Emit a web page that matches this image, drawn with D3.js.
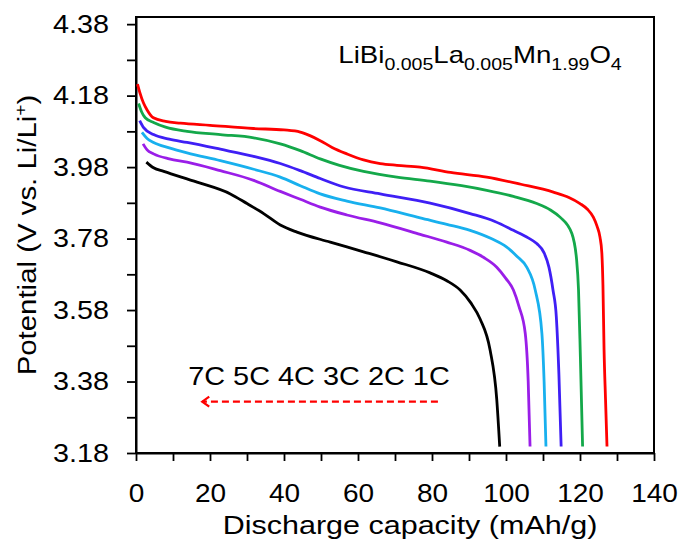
<!DOCTYPE html>
<html>
<head>
<meta charset="utf-8">
<script src="https://cdn.jsdelivr.net/npm/d3@7"></script>
<style>
  body { margin: 0; background: #fff; }
  text { font-family: "Liberation Sans", Arial, sans-serif; fill: #000; }
</style>
</head>
<body>
<div id="chart"></div>
<script>
// discharge curves, one pair of arrays per C-rate
var rates = ["1C", "2C", "3C", "4C", "5C", "7C"]
var rateColors = ["#ff0000", "#14a84a", "#3f1ff5", "#18b0ee", "#9a1ee8", "#000000"]

var cap1C = [0.4, 1, 2, 3, 4.7, 8, 12, 20, 31.7, 40, 44.4, 47, 49.8, 53, 57, 61.5, 66, 70.5, 76.8, 85, 94.8, 104, 112.8, 117, 120, 122, 123.6, 124.6, 125.4, 125.9, 126.2, 126.5, 126.9, 127.3]
var volt1C = [4.212, 4.19, 4.16, 4.14, 4.118, 4.108, 4.103, 4.097, 4.088, 4.084, 4.078, 4.068, 4.054, 4.035, 4.017, 4.000, 3.99, 3.985, 3.98, 3.965, 3.952, 3.932, 3.910, 3.895, 3.878, 3.862, 3.840, 3.815, 3.784, 3.74, 3.65, 3.47, 3.33, 3.198]

var cap2C = [0.7, 1.5, 2.5, 4.75, 8, 13.8, 22.8, 31.8, 39, 44.4, 49.8, 55, 61.5, 70.5, 79.5, 88, 94.8, 102, 108.3, 112, 114.6, 117.8, 119.1, 119.6, 120.1, 120.7]
var volt2C = [4.158, 4.135, 4.118, 4.105, 4.092, 4.080, 4.071, 4.062, 4.045, 4.026, 4.003, 3.985, 3.968, 3.952, 3.941, 3.928, 3.915, 3.898, 3.878, 3.860, 3.840, 3.794, 3.719, 3.636, 3.45, 3.198]

var cap3C = [1, 2, 4.75, 9, 13.8, 22.8, 31.8, 39, 44.4, 49.8, 56, 66, 79.5, 90.3, 97, 102, 106, 108.3, 110.3, 111.6, 112.7, 113.6, 114.3, 114.9]
var volt3C = [4.110, 4.091, 4.071, 4.058, 4.049, 4.030, 4.010, 3.990, 3.970, 3.948, 3.925, 3.905, 3.879, 3.85, 3.828, 3.803, 3.782, 3.766, 3.740, 3.70, 3.636, 3.561, 3.40, 3.198]

var cap4C = [1.6, 3, 4.75, 9, 13.8, 22.8, 31.8, 39, 44.4, 49.8, 57, 66, 76.8, 84, 90.3, 96, 100.2, 103, 105.6, 107.9, 109.7, 110.3, 110.8]
var volt4C = [4.077, 4.060, 4.049, 4.034, 4.020, 3.998, 3.974, 3.952, 3.928, 3.905, 3.885, 3.866, 3.838, 3.820, 3.803, 3.780, 3.756, 3.730, 3.70, 3.636, 3.515, 3.38, 3.198]

var cap5C = [1.9, 3, 4.75, 9, 13.8, 22.8, 31.8, 39, 44.4, 49.8, 57, 66, 76.8, 84, 90.3, 94, 97.5, 100, 102, 103.5, 105.2, 106, 106.5]
var volt5C = [4.045, 4.028, 4.017, 4.003, 3.994, 3.970, 3.943, 3.912, 3.890, 3.868, 3.846, 3.824, 3.792, 3.770, 3.747, 3.727, 3.70, 3.668, 3.636, 3.59, 3.515, 3.38, 3.198]

var cap7C = [2.8, 4.75, 7.5, 16.5, 25.5, 30, 34.5, 39, 43.5, 52.5, 61.5, 70.5, 79.5, 84, 87.6, 90.5, 93, 95.7, 97.5, 98.3]
var volt7C = [3.994, 3.978, 3.968, 3.938, 3.905, 3.878, 3.850, 3.818, 3.798, 3.770, 3.743, 3.715, 3.684, 3.662, 3.636, 3.600, 3.555, 3.468, 3.33, 3.198]

var xTicks = [0, 20, 40, 60, 80, 100, 120, 140]
var yTicks = [3.18, 3.38, 3.58, 3.78, 3.98, 4.18, 4.38]

var capSets = [cap1C, cap2C, cap3C, cap4C, cap5C, cap7C]
var voltSets = [volt1C, volt2C, volt3C, volt4C, volt5C, volt7C]

// size of the page and plot box
var W = 679, H = 540
var margin = {top: 17, right: 25, bottom: 87, left: 136},
    width = W - margin.left - margin.right,
    height = H - margin.top - margin.bottom

var svg = d3.select("#chart")
  .append("svg")
    .attr("width", W)
    .attr("height", H)
  .append("g")
    .attr("transform", "translate(" + margin.left + "," + margin.top + ")")

var x = d3.scaleLinear().domain([0, 140]).range([0, width])
var y = d3.scaleLinear().domain([3.18, 4.40]).range([height, 0])

// the source picture has its text a bit wider than plain Arial
function stretch(sel, k) {
  sel.each(function() {
    var len = this.getComputedTextLength()
    if (len > 0) d3.select(this).attr("textLength", len * k).attr("lengthAdjust", "spacingAndGlyphs")
  })
}

// frame
svg.append("rect")
  .attr("width", width)
  .attr("height", height)
  .attr("fill", "none")
  .attr("stroke", "#000")
  .attr("stroke-width", 2)

// x axis: ticks every 10, labels every 20
var xAxis = svg.append("g")
  .attr("transform", "translate(0," + height + ")")
  .call(d3.axisBottom(x).tickValues(d3.range(0, 141, 10)).tickSize(8).tickSizeOuter(0)
    .tickFormat(function(d) { return xTicks.indexOf(d) >= 0 ? d : "" }))
xAxis.select(".domain").attr("stroke-width", 2)
xAxis.selectAll(".tick line").attr("stroke-width", 1.8)
xAxis.selectAll(".tick text")
  .attr("dy", 0)
  .attr("y", 49)
  .style("font-size", "25px")
  .style("font-family", "Liberation Sans, Arial, sans-serif")
  .call(stretch, 1.12)

// y axis: ticks every 0.1, labels every 0.2
var yMinor = d3.range(0, 13).map(function(i) { return +(3.18 + i * 0.1).toFixed(2) })
var yAxis = svg.append("g")
  .call(d3.axisLeft(y).tickValues(yMinor).tickSize(9).tickSizeOuter(0)
    .tickFormat(function(d) { return yTicks.indexOf(d) >= 0 ? d.toFixed(2) : "" }))
yAxis.select(".domain").attr("stroke-width", 2)
yAxis.selectAll(".tick line").attr("stroke-width", 1.8)
yAxis.selectAll(".tick text")
  .attr("x", -27)
  .style("font-size", "25px")
  .style("font-family", "Liberation Sans, Arial, sans-serif")
  .call(stretch, 1.15)

// curves
var line = d3.line()
  .x(function(d) { return x(d[0]) })
  .y(function(d) { return y(d[1]) })
  .curve(d3.curveMonotoneX)

for (let i = 0; i < rates.length; ++i) {
  var pts = capSets[i].map(function(c, j) { return [c, voltSets[i][j]] })
  svg.append("path")
    .attr("d", line(pts))
    .attr("fill", "none")
    .attr("stroke", rateColors[i])
    .attr("stroke-width", 2.8)
}

// rate labels and arrow
svg.append("text")
  .attr("x", x(14.1))
  .attr("y", y(3.37))
  .style("font-size", "25px")
  .text(rates.slice().reverse().join(" "))
  .call(stretch, 1.155)

var ay = y(3.3236)
svg.append("line")
  .attr("x1", x(81.6))
  .attr("x2", x(17.9))
  .attr("y1", ay)
  .attr("y2", ay)
  .attr("stroke", "#ff0000")
  .attr("stroke-width", 2.2)
  .attr("stroke-dasharray", "7,4")
svg.append("path")
  .attr("d", "M" + (x(17.9) + 7) + "," + (ay - 5) + "L" + x(17.9) + "," + ay + "L" + (x(17.9) + 7) + "," + (ay + 5))
  .attr("fill", "none")
  .attr("stroke", "#ff0000")
  .attr("stroke-width", 2.2)

// compound name with subscripts
var formula = svg.append("text")
  .attr("x", x(54.7))
  .attr("y", y(4.27))
  .style("font-size", "24px")
var parts = [["LiBi", false], ["0.005", true], ["La", false], ["0.005", true], ["Mn", false], ["1.99", true], ["O", false], ["4", true]]
parts.forEach(function(p, i) {
  var t = formula.append("tspan").text(p[0])
  if (p[1]) t.attr("dy", 7).style("font-size", "17px")
  else if (i > 0) t.attr("dy", -7)
})
formula.call(stretch, 1.15)

// axis titles
svg.append("text")
  .attr("x", width / 2 + 15)
  .attr("y", height + 81)
  .attr("text-anchor", "middle")
  .style("font-size", "25px")
  .text("Discharge capacity (mAh/g)")
  .call(stretch, 1.22)

var yTitle = svg.append("text")
  .attr("transform", "translate(" + (-100) + "," + (height / 2) + ") rotate(-90)")
  .attr("text-anchor", "middle")
  .style("font-size", "26px")
yTitle.append("tspan").text("Potential (V vs. Li/Li")
yTitle.append("tspan").text("+").attr("dy", -10).style("font-size", "17px")
yTitle.append("tspan").text(")").attr("dy", 10)
yTitle.call(stretch, 1.13)
</script>
</body>
</html>
